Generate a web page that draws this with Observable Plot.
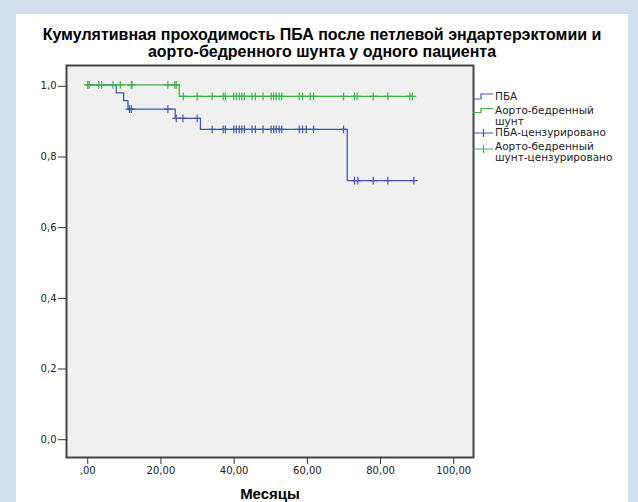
<!DOCTYPE html>
<html><head><meta charset="utf-8">
<script src="https://cdn.jsdelivr.net/npm/d3@7"></script>
<script src="https://cdn.jsdelivr.net/npm/@observablehq/plot@0.6"></script>
<style>
html,body{margin:0;padding:0;background:#d5e0ef;}
#wrap{position:relative;width:638px;height:502px;overflow:hidden;background:#d5e0ef;}
#panel{position:absolute;left:16px;top:14px;width:612px;height:500px;background:#fff;}
#title{position:absolute;left:16px;width:612px;top:27px;text-align:center;font:bold 16px "Liberation Sans",Arial,sans-serif;line-height:16.5px;color:#000;}
#chart{position:absolute;left:0;top:0;}
#legend{position:absolute;left:0;top:0;}
</style></head><body>
<div id="wrap"><div id="panel"></div>
<div id="title">Кумулятивная проходимость ПБА после петлевой эндартерэктомии и<br>аорто-бедренного шунта у одного пациента</div>
<div id="chart"></div>
<svg id="legend" width="638" height="502"></svg>
</div>
<script>
// Data (months, cumulative survival)
const pbaTimes = [0, 7.8, 9.8, 11.0, 23.9, 30.8, 70.9, 89.1];
const pbaSurv  = [1.0, 0.977, 0.955, 0.931, 0.905, 0.874, 0.729, 0.729];
const pbaCensored = [11.4, 11.9, 21.9, 24.2, 26.0, 29.9, 34.0, 37.0, 37.6, 39.9, 40.6, 41.4, 42.1, 42.8, 44.9, 45.8, 47.9, 50.1, 50.8, 51.5, 52.3, 53.0, 57.8, 58.7, 59.7, 61.7, 69.9, 72.9, 73.8, 78.0, 82.0, 89.1];
const aortoTimes = [0, 25.0, 88.7];
const aortoSurv  = [1.0, 0.967, 0.967];
const aortoCensored = [0.0, 0.4, 3.0, 3.8, 6.9, 8.9, 11.9, 12.1, 21.9, 23.8, 24.2, 26.1, 29.9, 34.0, 37.0, 37.6, 39.9, 40.6, 41.4, 42.1, 42.8, 44.9, 45.8, 47.9, 50.1, 50.8, 51.5, 52.3, 53.0, 57.8, 58.7, 60.8, 61.7, 69.9, 72.9, 73.6, 78.0, 82.0, 88.0, 88.7];
const xTicks = [0, 20, 40, 60, 80, 100];
const yTicks = [0, 0.2, 0.4, 0.6, 0.8, 1.0];
const seriesNames = ["ПБА", "Аорто-бедренный шунт", "ПБА-цензурировано", "Аорто-бедренный шунт-цензурировано"];
const xLabel = "Месяцы";

const blue = "#3f57b3", green = "#3cb44a";

function toLine(times, surv) { return times.map((t, i) => ({t, s: surv[i]})); }
function survAt(times, surv, t) {
  let s = surv[0];
  for (let i = 0; i < times.length; i++) if (times[i] <= t) s = surv[i];
  return s;
}
function toCens(cens, times, surv) { return cens.map(t => ({t, s: survAt(times, surv, t)})); }

const pbaLine = toLine(pbaTimes, pbaSurv);
const aortoLine = toLine(aortoTimes, aortoSurv);
const pbaCens = toCens(pbaCensored, pbaTimes, pbaSurv);
const aortoCens = toCens(aortoCensored, aortoTimes, aortoSurv);

const fmtX = d => d === 0 ? ",00" : d.toFixed(2).replace(".", ",");
const fmtY = d => d.toFixed(1).replace(".", ",");

const chart = Plot.plot({
  width: 638, height: 502,
  marginLeft: 66, marginRight: 165, marginTop: 65, marginBottom: 45,
  style: {background: "transparent", fontFamily: "DejaVu Sans", fontSize: "10px", color: "#222"},
  x: {domain: [-5.8, 105.4]},
  y: {domain: [-0.0546, 1.0546]},
  marks: [
    Plot.frame({fill: "#f0f0f0", stroke: "none"}),
    Plot.line(pbaLine, {x: "t", y: "s", curve: "step-after", stroke: blue, strokeWidth: 1.3}),
    Plot.dot(pbaCens, {x: "t", y: "s", symbol: "plus", r: 2.6, stroke: blue, strokeWidth: 1.2}),
    Plot.line(aortoLine, {x: "t", y: "s", curve: "step-after", stroke: green, strokeWidth: 1.3}),
    Plot.dot(aortoCens, {x: "t", y: "s", symbol: "plus", r: 2.6, stroke: green, strokeWidth: 1.2}),
    Plot.frame({stroke: "#444", strokeWidth: 2}),
    Plot.axisX({ticks: xTicks, tickFormat: fmtX, tickSize: 7, tickPadding: 2, label: null, stroke: "#333"}),
    Plot.axisY({ticks: yTicks, tickFormat: fmtY, tickSize: 8, tickPadding: 2, label: null, stroke: "#333", dy: 1.5}),
    Plot.text([xLabel], {frameAnchor: "bottom", lineAnchor: "bottom", dy: 41, fontWeight: "bold", fontSize: 15, fontFamily: "Liberation Sans", fill: "#000"})
  ]
});
document.getElementById("chart").appendChild(chart);

// Legend
const lg = d3.select("#legend");
const tx = 495;
function txt(y, s) {
  lg.append("text").attr("x", tx).attr("y", y).text(s)
    .attr("font-family", "DejaVu Sans").attr("font-size", 10.5).attr("fill", "#222");
}
lg.append("path").attr("d", "M473,99H481V94H493").attr("fill", "none").attr("stroke", blue).attr("stroke-width", 1.2);
txt(100, "ПБА");
lg.append("path").attr("d", "M473,112.5H481V108.5H493").attr("fill", "none").attr("stroke", green).attr("stroke-width", 1.2);
txt(114, "Аорто-бедренный");
txt(125, "шунт");
lg.append("path").attr("d", "M473,133H493M483.5,129V137").attr("fill", "none").attr("stroke", blue).attr("stroke-width", 1.2);
txt(135.5, seriesNames[2]);
lg.append("path").attr("d", "M473,149H493M483.5,145V153").attr("fill", "none").attr("stroke", green).attr("stroke-width", 1.2);
txt(150, "Аорто-бедренный");
txt(161, "шунт-цензурировано");
</script>
</body></html>
